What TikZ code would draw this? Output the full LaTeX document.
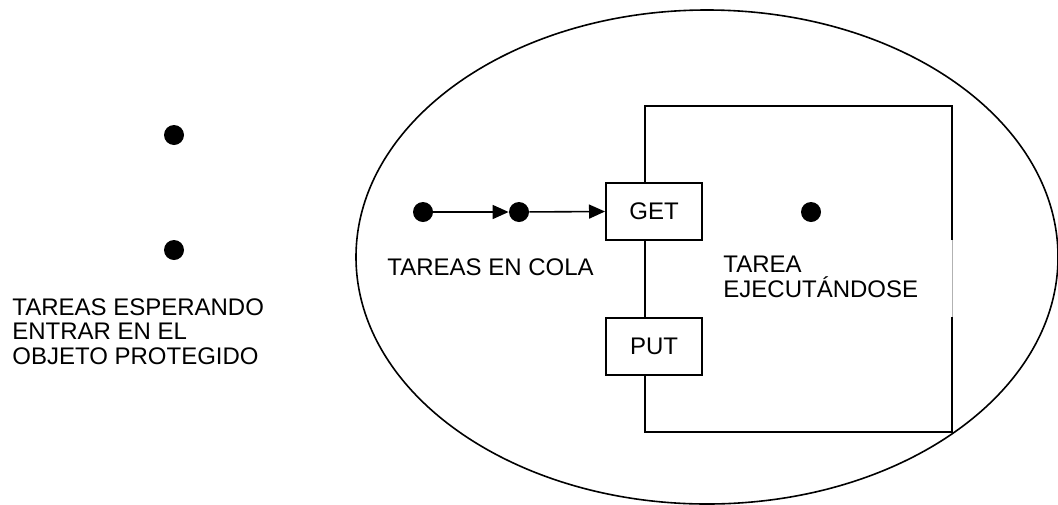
\documentclass[tikz,border=0pt]{standalone}
\usepackage{fontspec}
\setmainfont{Liberation Sans}
\usetikzlibrary{arrows.meta}
\begin{document}
\begin{tikzpicture}[x=0.5pt,y=-0.5pt,
  dot/.style={circle,fill=black,inner sep=0pt,minimum size=10pt},
  lbl/.style={anchor=base west,inner sep=0pt,font=\fontsize{12pt}{12.2pt}\selectfont,align=left},
  opbox/.style={draw,line width=1pt,fill=white,minimum width=48pt,minimum height=28.5pt,inner sep=0pt,font=\fontsize{12pt}{14pt}\selectfont},
  flow/.style={line width=0.8pt,-{Triangle[length=8pt,width=7pt]}},
  wall/.style={line width=1pt}]
\useasboundingbox (0,0) rectangle (1058,504);

% protected object boundary
\draw[line width=0.8pt] (707,257) ellipse [x radius=175.5pt, y radius=123.5pt];

% tasks waiting outside
\node[dot] (w1) at (174,135) {};
\node[dot] (w2) at (174,250) {};
% base anchor of a multi-line node sits on its last line
\node[lbl] (wait) at (12,364) {TAREAS ESPERANDO\\ENTRAR EN EL\\OBJETO PROTEGIDO};

% execution area
\coordinate (sq1) at (645,106);
\coordinate (sq2) at (952,106);
\coordinate (sq3) at (952,240);
\coordinate (sq4) at (952,317);
\coordinate (sq5) at (952,432);
\coordinate (sq6) at (645,432);
\draw[wall] (sq3) -- (sq2) -- (sq1) -- (sq6) -- (sq5) -- (sq4);
\draw[line width=0.4pt,black!30] (sq3) -- (sq4);

\node[opbox] (get) at (654,211.5) {GET};
\node[opbox] (put) at (654,346) {PUT};

% queued tasks
\node[dot] (q1) at (423,212) {};
\node[dot] (q2) at (519,212) {};
\draw[flow] (q1) -- (q2);
\draw[flow] (q2) -- (get.west);
\node[lbl] (queue) at (387,275) {TAREAS EN COLA};

% running task
\node[dot] (run) at (811,212) {};
\node[lbl] (running) at (723,297) {TAREA\\EJECUTÁNDOSE};
\end{tikzpicture}
\end{document}
